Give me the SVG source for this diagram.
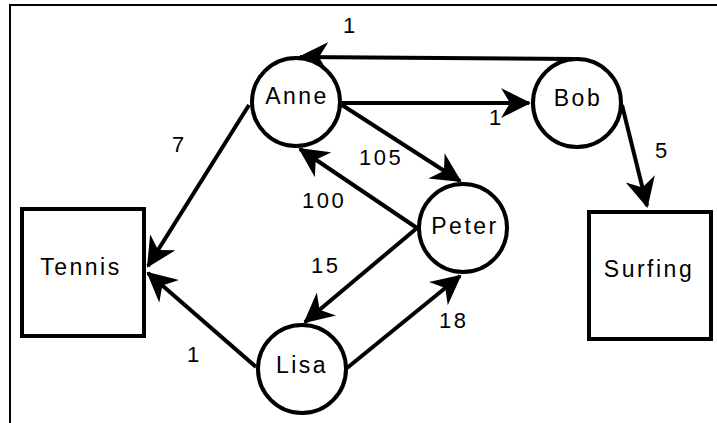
<svg xmlns="http://www.w3.org/2000/svg" width="717" height="423" viewBox="0 0 717 423">
<defs>
<style>
.node{fill:#fff;stroke:#000;stroke-width:4}
.lbl{font-family:"Liberation Sans",Arial,sans-serif;font-size:23px;letter-spacing:2.5px;fill:#000;text-anchor:middle}
.num{font-family:"Liberation Sans",Arial,sans-serif;font-size:22px;letter-spacing:2.5px;fill:#000}
.edge{stroke:#000;stroke-width:4;fill:none;marker-end:url(#arr)}
</style>
<marker id="arr" markerUnits="userSpaceOnUse" markerWidth="32" markerHeight="30" viewBox="0 0 32 30" refX="28" refY="15" orient="auto">
<path d="M30,15 L0,0 L9,15 L0,30 Z" fill="#000"/>
</marker>
</defs>
<rect width="717" height="423" fill="#fff"/>
<path d="M10,423 V5 H717" fill="none" stroke="#000" stroke-width="2"/>
<g id="connectors">
<line class="edge" x1="575" y1="59" x2="300" y2="57"/>
<line class="edge" x1="342" y1="103" x2="529" y2="103"/>
<line class="edge" x1="249" y1="105" x2="148" y2="266"/>
<line class="edge" x1="342" y1="105" x2="460" y2="181"/>
<line class="edge" x1="417" y1="228" x2="300" y2="149"/>
<line class="edge" x1="417" y1="228" x2="305" y2="322"/>
<line class="edge" x1="347" y1="368" x2="460" y2="276"/>
<line class="edge" x1="256" y1="367" x2="148" y2="273"/>
<line class="edge" x1="622" y1="105" x2="647" y2="206"/>
</g>
<g id="labels">
<text class="num" x="343" y="33">1</text>
<text class="num" x="489" y="125">1</text>
<text class="num" x="172" y="152">7</text>
<text class="num" x="359" y="165">105</text>
<text class="num" x="302" y="208">100</text>
<text class="num" x="311" y="273">15</text>
<text class="num" x="439" y="328">18</text>
<text class="num" x="187" y="362">1</text>
<text class="num" x="655" y="158">5</text>
</g>
<g id="Anne"><circle class="node" cx="296" cy="102" r="44"/><text class="lbl" x="297" y="104">Anne</text></g>
<g id="Bob"><circle class="node" cx="577" cy="103" r="44"/><text class="lbl" x="578" y="106">Bob</text></g>
<g id="Peter"><circle class="node" cx="463" cy="228" r="44"/><text class="lbl" x="465" y="234">Peter</text></g>
<g id="Lisa"><circle class="node" cx="302" cy="369" r="44"/><text class="lbl" x="302" y="373">Lisa</text></g>
<g id="Tennis"><rect class="node" x="22" y="209" width="122" height="127"/><text class="lbl" x="81" y="275">Tennis</text></g>
<g id="Surfing"><rect class="node" x="589" y="212" width="122" height="127"/><text class="lbl" x="649" y="277">Surfing</text></g>
</svg>
